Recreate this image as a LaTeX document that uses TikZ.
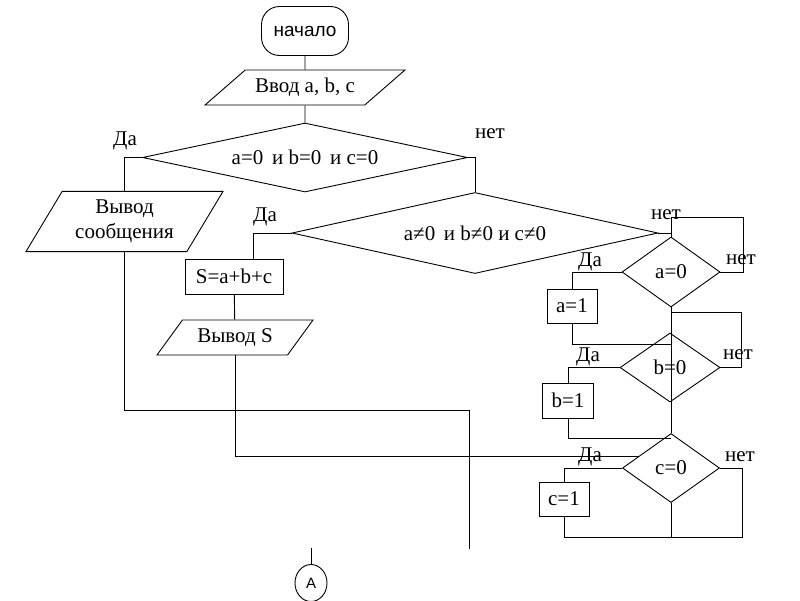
\documentclass[tikz,border=0pt]{standalone}
\usepackage{fontspec}
\setmainfont{Liberation Serif}
\newfontfamily\sansf{Liberation Sans}
\usetikzlibrary{shapes.geometric, positioning, calc}

\begin{document}
\begin{tikzpicture}[x=1pt,y=-1pt,line width=0.9pt,
    font=\fontsize{21}{25}\selectfont,
    term/.style={draw, rounded corners=18pt, minimum width=87pt, minimum height=49pt,
        inner sep=0pt, font=\sansf\fontsize{19}{23}\selectfont},
    io/.style={draw, trapezium, trapezium stretches body=true, inner xsep=0pt},
    proc/.style={draw, rectangle, inner sep=0pt},
    cond/.style={draw, diamond, inner sep=0pt},
    lbl/.style={inner sep=0pt}]

    \clip (0,0) rectangle (800,600);

    \node[term] (start) at (305,31) {начало};
    \node[io, trapezium left angle=41, trapezium right angle=139, text height=15pt, text depth=5pt,
          inner ysep=7.5pt, minimum width=200pt] (in) at (305,87.5) {Ввод a, b, c};
    \node[cond, aspect=4.7, minimum width=325pt, minimum height=69pt] (d_1) at (305,157.5) {a=0 \,и b=0 \,и c=0};
    \node[io, trapezium left angle=59, trapezium right angle=121, align=center,
          inner ysep=8.5pt, minimum width=197pt] (msg) at (124.5,221.5) {Вывод\\сообщения};
    \node[cond, aspect=4.5, minimum width=366pt, minimum height=81pt] (d_2) at (475,233) {a≠0 \,и b≠0 и c≠0};
    \node[proc, minimum width=98pt, minimum height=35pt] (sum) at (234,276.5) {S=a+b+c};
    \node[io, trapezium left angle=54, trapezium right angle=126, text height=15pt, text depth=5pt,
          inner ysep=7.5pt, minimum width=156pt] (outS) at (235,337.5) {Вывод S};

    \node[cond, aspect=1.4, minimum width=98pt, minimum height=70pt] (a_0) at (671,272) {a=0};
    \node[proc, minimum width=50pt, minimum height=34pt] (a_1) at (572,306) {a=1};
    \node[cond, aspect=1.4, minimum width=100pt, minimum height=69pt] (b_0) at (670,367.5) {b=0};
    \node[proc, minimum width=51pt, minimum height=35pt] (b_1) at (568,400.5) {b=1};
    \node[cond, aspect=1.4, minimum width=97pt, minimum height=69pt] (c_0) at (671,468) {c=0};
    \node[proc, minimum width=50pt, minimum height=34pt] (c_1) at (564,499) {c=1};

    \node[draw, ellipse, minimum width=32pt, minimum height=37pt, inner sep=0pt,
          font=\sansf\fontsize{15}{18}\selectfont] (con) at (311,583) {A};

    % labels
    \node[lbl] (y_1) at (125,141) {Да};
    \node[lbl] (n_1) at (490,134) {нет};
    \node[lbl] (y_2) at (265,217) {Да};
    \node[lbl] (n_2) at (666,215) {нет};
    \node[lbl] (y_a) at (590,262) {Да};
    \node[lbl] (n_a) at (741,260) {нет};
    \node[lbl] (y_b) at (588,357) {Да};
    \node[lbl] (n_b) at (738,355) {нет};
    \node[lbl] (y_c) at (590,457) {Да};
    \node[lbl] (n_c) at (740,457) {нет};

    \coordinate (j_1) at (469,410);
    \coordinate (e_1) at (469,549);
    \coordinate (e_2) at (311,548);
    \coordinate (l_a) at (743,217);
    \coordinate (l_b) at (741,312);
    \coordinate (l_c) at (742,537);
    \coordinate (j_a) at (671,344);
    \coordinate (j_b) at (671,438);

    \draw (start) -- (in);
    \draw (in) -- (d_1);
    \draw (d_1.west) -| (msg.north);
    \draw (d_1.east) -| (d_2.north);
    \draw (d_2.west) -| ([xshift=19pt]sum.north);
    \draw (sum) -- (outS);
    \draw (outS.south) |- ($(c_0.north)!0.66!(c_0.west)$);
    \draw (msg.south) |- (j_1) -- (e_1);
    \draw (e_2) -- (con);

    \draw (d_2.east) -| (a_0.north);
    \draw (a_0.east) -| (l_a) -| (a_0.north);
    \draw (a_0.west) -| (a_1.north);
    \draw (a_1.south) |- (j_a);
    \draw (a_0.south) -- (c_0.north);
    \draw (b_0.east) -| (l_b) -- (l_b -| a_0.south);
    \draw (b_0.west) -| (b_1.north);
    \draw (b_1.south) |- (j_b);
    \draw (c_0.west) -| (c_1.north);
    \draw (c_0.east) -| (l_c) -- (c_1.south |- l_c) -- (c_1.south);
    \draw (c_0.south) -- (c_0.south |- l_c);

\end{tikzpicture}
\end{document}
